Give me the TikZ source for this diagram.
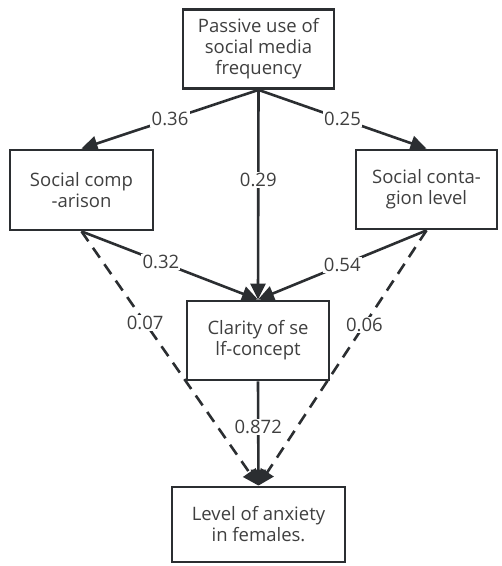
\documentclass[tikz,border=0pt]{standalone}
\usepackage{fontspec}
\setmainfont{Open Sans}
\usetikzlibrary{arrows.meta}
\definecolor{edgec}{HTML}{2B2E31}
\definecolor{textc}{HTML}{3F3F3F}
\tikzset{
  box/.style={draw=edgec, line width=2.8pt, rectangle, align=center, text=textc,
    font=\fontsize{18.5}{21}\selectfont, inner sep=0pt},
  link/.style={draw=edgec, line width=2.6pt, -{Triangle[length=16pt,width=15pt]}},
  dlink/.style={link, dash pattern=on 12pt off 8pt},
  lab/.style={fill=white, text=textc, font=\fontsize{18.5}{21}\selectfont, inner sep=1.2pt}
}
\begin{document}
\begin{tikzpicture}[x=1pt,y=-1pt]
\useasboundingbox[fill=white] (0,0) rectangle (502,566);
\node[box, minimum width=151pt, minimum height=79pt] (top) at (258.5,49) {Passive use of\\social media\\frequency};
\node[box, minimum width=143pt, minimum height=80pt] (left) at (81.5,190) {Social comp\\-arison};
\node[box, minimum width=141pt, minimum height=79pt] (right) at (426.5,189.5) {Social conta-\\gion level};
\node[box, minimum width=142pt, minimum height=79pt] (mid) at (258,340.5) {Clarity of se\\lf-concept};
\node[box, minimum width=173pt, minimum height=75pt] (bot) at (258.5,524.5) {Level of anxiety\\in females.};
\draw[link] (top.south) -- node[lab, pos=0.5] {0.36} (left.north);
\draw[link] (top.south) -- node[lab, pos=0.5] {0.25} (right.north);
\draw[link] (top.south) -- node[lab, pos=0.43] {0.29} (mid.north);
\draw[link] (left.south) -- node[lab, pos=0.45] {0.32} (mid.north);
\draw[link] (right.south) -- node[lab, pos=0.5] {0.54} (mid.north);
\draw[dlink] (left.south) -- node[lab, pos=0.36] {0.07} (bot.north);
\draw[dlink] (right.south) -- node[lab, pos=0.37] {0.06} (bot.north);
\draw[link] (mid.south) -- node[lab, pos=0.44] {0.872} (bot.north);
\end{tikzpicture}
\end{document}
